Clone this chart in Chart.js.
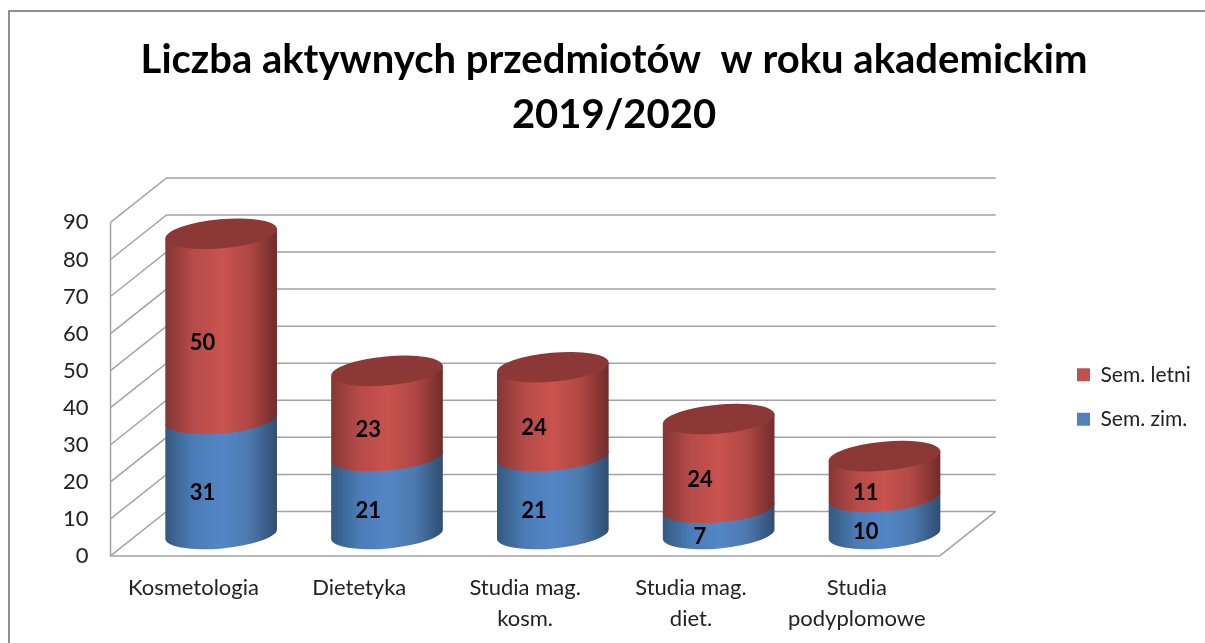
<!DOCTYPE html>
<html>
<head>
<meta charset="utf-8">
<style>
  html, body { margin: 0; padding: 0; background: #fff; overflow: hidden; }
  #wrap { position: relative; width: 1205px; height: 643px; }
</style>
<script src="https://cdn.jsdelivr.net/npm/chart.js@4/dist/chart.umd.min.js"></script>
</head>
<body>
<div id="wrap"><canvas id="myChart" width="1205" height="643"></canvas></div>
<script>
const categories = ['Kosmetologia', 'Dietetyka', ['Studia mag.', 'kosm.'], ['Studia mag.', 'diet.'], ['Studia', 'podyplomowe']];
const semZim = [31, 21, 21, 7, 10];
const semLetni = [50, 23, 24, 24, 11];
const titleLines = ['Liczba aktywnych przedmiotów  w roku akademickim', '2019/2020'];

const font = 'Lato';
const wallColor = '#a3a3a3';
// depth of the fake 3D box, and how far the cylinders sit inside it
const depthX = 56, depthY = 44.5;
const barX = 27.7, barY = 22;
const tilt = 0.09, capRadius = 14.5;

const cylinderStyles = [
  { stops: ['#33597f', '#4b7cb6', '#5486c7', '#4c79ae', '#2f4d71'], cap: null },
  { stops: ['#843634', '#b64b48', '#c9534f', '#b04744', '#6f2c2a'], cap: '#8c3836' },
];

function drawWalls(chart) {
  const ctx = chart.ctx, yScale = chart.scales.y;
  const { left, right, bottom } = chart.chartArea;
  ctx.save();
  ctx.strokeStyle = wallColor;
  ctx.lineWidth = 1.5;
  ctx.beginPath();
  yScale.ticks.forEach(t => {
    const y = yScale.getPixelForValue(t.value);
    ctx.moveTo(left, y);
    ctx.lineTo(left + depthX, y - depthY);
    ctx.lineTo(right + depthX, y - depthY);
  });
  ctx.moveTo(left, yScale.top);
  ctx.lineTo(left, bottom);
  ctx.lineTo(right, bottom);
  ctx.lineTo(right + depthX, bottom - depthY);
  ctx.stroke();
  ctx.restore();
}

function drawCylinder(ctx, el, style) {
  const cx = el.x + barX, a = el.width / 2;
  const top = el.y - barY, base = el.base - barY;
  const dx = a * Math.cos(tilt), dy = a * Math.sin(tilt);
  const grad = ctx.createLinearGradient(cx - a, 0, cx + a, 0);
  style.stops.forEach((c, i) => grad.addColorStop(i / (style.stops.length - 1), c));
  ctx.fillStyle = grad;
  ctx.beginPath();
  ctx.moveTo(cx - dx, top + dy);
  ctx.lineTo(cx - dx, base + dy);
  ctx.ellipse(cx, base, a, capRadius, -tilt, Math.PI, 0, true);
  ctx.lineTo(cx + dx, top - dy);
  ctx.closePath();
  ctx.fill();
  if (style.cap) {
    ctx.fillStyle = style.cap;
    ctx.beginPath();
    ctx.ellipse(cx, top, a, capRadius, -tilt, 0, Math.PI * 2);
    ctx.fill();
  }
}

const cylinders3d = {
  id: 'cylinders3d',
  afterLayout(chart) {
    // legend and title stay where the reference has them, apart from the plot box
    const lg = chart.legend, w = lg.width, h = lg.height;
    lg.left = 1053.5; lg.right = lg.left + w;
    lg.top = 397 - h / 2; lg.bottom = lg.top + h;
    const tb = chart.titleBlock;
    tb.left = 23; tb.right = 1205;
  },
  beforeDatasetsDraw(chart) {
    drawWalls(chart);
    const ctx = chart.ctx;
    chart.data.datasets.forEach((ds, i) => {
      chart.getDatasetMeta(i).data.forEach(el => drawCylinder(ctx, el, cylinderStyles[i]));
    });
    ctx.save();
    ctx.font = 'bold 22px ' + font;
    ctx.fillStyle = '#000';
    ctx.textAlign = 'center';
    ctx.textBaseline = 'middle';
    chart.data.datasets.forEach((ds, i) => {
      chart.getDatasetMeta(i).data.forEach((el, j) => {
        ctx.fillText(ds.data[j], el.x + 9, (el.y + el.base) / 2 - 6);
      });
    });
    ctx.restore();
  },
  // the plain bars are replaced by the cylinders above
  beforeDatasetDraw() { return false; },
  beforeDraw(chart) {
    const ctx = chart.ctx;
    ctx.save();
    ctx.strokeStyle = '#8f8f8f';
    ctx.lineWidth = 2;
    ctx.strokeRect(9, 11, 1300, 800);
    ctx.restore();
  },
};

new Chart(document.getElementById('myChart').getContext('2d'), {
  type: 'bar',
  data: {
    labels: categories,
    datasets: [
      { label: 'Sem. zim.', data: semZim, backgroundColor: '#4f81bd', borderWidth: 0 },
      { label: 'Sem. letni', data: semLetni, backgroundColor: '#c0504d', borderWidth: 0 },
    ],
  },
  plugins: [cylinders3d],
  options: {
    responsive: false,
    animation: false,
    events: [],
    layout: { padding: { left: 49, right: 118, top: 32, bottom: 1 } },
    datasets: { bar: { categoryPercentage: 1, barPercentage: 0.676 } },
    scales: {
      x: {
        stacked: true,
        grid: { display: false },
        border: { display: false },
        ticks: { color: '#222', font: { family: font, size: 22, lineHeight: 1.41 }, padding: 8, maxRotation: 0, autoSkip: false },
      },
      y: {
        stacked: true,
        min: 0,
        max: 90,
        grid: { display: false },
        border: { display: false },
        ticks: { stepSize: 10, color: '#222', font: { family: font, size: 22 }, padding: 14 },
      },
    },
    plugins: {
      title: {
        display: true,
        text: titleLines,
        color: '#000',
        font: { family: font, size: 40, weight: 'bold', lineHeight: 1.38 },
        padding: { top: 0, bottom: 80 },
      },
      legend: {
        position: 'right',
        reverse: true,
        labels: { color: '#222', boxWidth: 13, boxHeight: 13, padding: 23.5, font: { family: font, size: 21 } },
      },
      tooltip: { enabled: false },
    },
  },
});
</script>
</body>
</html>
